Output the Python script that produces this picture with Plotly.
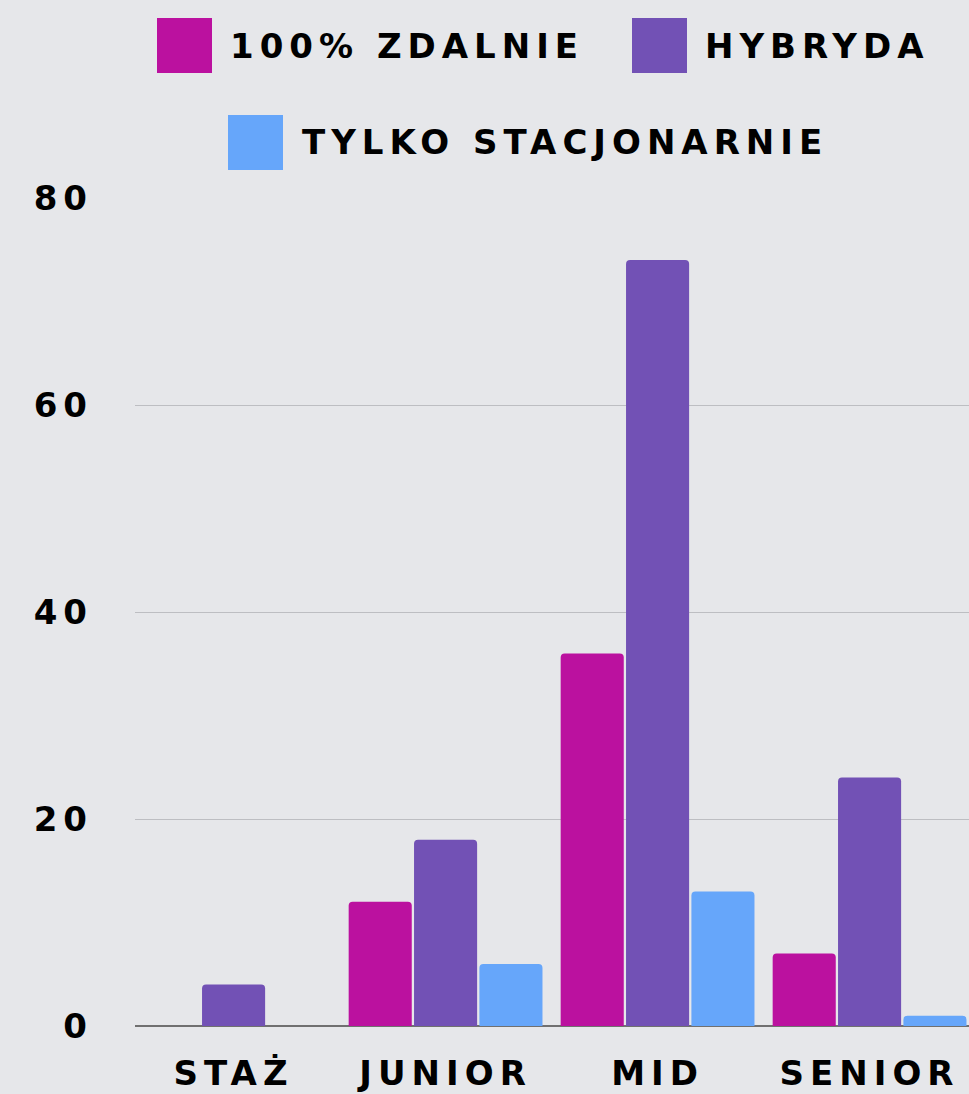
import plotly.graph_objects as go

categories = ["Staż", "Junior", "Mid", "Senior"]
series_names = ["100% zdalnie", "Hybryda", "Tylko stacjonarnie"]
zdalnie = [0, 12, 36, 7]
hybryda = [4, 18, 74, 24]
stacjonarnie = [0, 6, 13, 1]
y_ticks = [0, 20, 40, 60, 80]

colors = ["#BB119F", "#7251B5", "#66A6FA"]
W, H = 969, 1094
L, R, T, B = 135, 0, 198, 68
FONT = "DejaVu Sans"
FS = 34
LS = 6  # letter spacing px

fig = go.Figure()
for name, vals, c in zip(series_names, [zdalnie, hybryda, stacjonarnie], colors):
    fig.add_trace(go.Bar(x=categories, y=vals, name=name, marker_color=c,
                         marker_line_width=0, showlegend=False))

pw, ph = W - L - R, H - T - B
def px(x):
    return (x - L) / pw
def py(y):
    return (H - B - y) / ph

# manual legend (large square swatches)
legend_items = [
    (157, 18, 228, 46),
    (632, 18, 703, 46),
    (228, 115, 300, 142),
]
shapes, annots = [], []
for (sx, sy, tx, ty), name, c in zip(legend_items, series_names, colors):
    shapes.append(dict(type="rect", xref="paper", yref="paper",
                       x0=px(sx), x1=px(sx + 55), y0=py(sy + 55), y1=py(sy),
                       fillcolor=c, line=dict(width=0)))
    # plotly centres annotation text in its box; letter spacing grows it both ways
    shift = len(name) * LS / 2
    annots.append(dict(xref="paper", yref="paper", x=px(tx + shift), y=py(ty),
                       xanchor="left", yanchor="middle", text=name, showarrow=False,
                       font=dict(family=FONT, size=FS, color="#000", weight="bold",
                                 textcase="upper")))

fig.update_layout(
    width=W, height=H,
    margin=dict(l=L, r=R, t=T, b=B),
    paper_bgcolor="#E6E7EA", plot_bgcolor="rgba(0,0,0,0)",
    barmode="group", bargap=0.075, bargroupgap=0.035,
    barcornerradius=4,
    font=dict(family=FONT, size=FS, color="#000", weight="bold"),
    shapes=shapes, annotations=annots,
    xaxis=dict(range=[-0.465, 3.469], showgrid=False, showline=False,
               zeroline=False, ticks="", ticklabelstandoff=24,
               tickfont=dict(family=FONT, size=FS, weight="bold", textcase="upper")),
    yaxis=dict(range=[0, 80], tickvals=y_ticks, showgrid=True,
               gridcolor="#BDBEC2", gridwidth=1, zeroline=True,
               zerolinecolor="#707070", zerolinewidth=2, showline=False,
               ticks="", ticklabelstandoff=41,
               tickfont=dict(family=FONT, size=FS, weight="bold")),
)

js = """
document.body.style.margin='0';document.body.style.padding='0';
var gd=document.getElementById('{plot_id}');
function ls(){document.querySelectorAll('.main-svg text').forEach(function(t){t.style.letterSpacing='%dpx';});}
ls(); gd.on('plotly_afterplot', ls);
""" % LS

fig.write_html("out.html", post_script=js, config={"displayModeBar": False})
